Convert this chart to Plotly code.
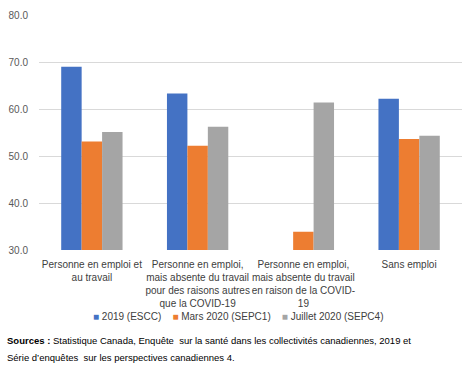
import plotly.graph_objects as go

categories = [
    "Personne en emploi et<br>au travail",
    "Personne en emploi,<br>mais absente du travail<br>pour des raisons autres<br>que la COVID-19",
    "Personne en emploi,<br>mais absente du travail<br>en raison de la COVID-<br>19",
    "Sans emploi",
]
series_names = ["2019 (ESCC)", "Mars 2020 (SEPC1)", "Juillet 2020 (SEPC4)"]
vals_2019 = [69.0, 63.3, None, 62.2]
vals_mars = [53.1, 52.2, 33.9, 53.6]
vals_juillet = [55.1, 56.2, 61.4, 54.3]
colors = ["#4472C4", "#ED7D31", "#A5A5A5"]

font = "Liberation Sans"
L, R, T, B = 39, 12, 15, 115
W, H = 474, 365
pw, ph = W - L - R, H - T - B

fig = go.Figure()
for name, vals, c in zip(series_names, [vals_2019, vals_mars, vals_juillet], colors):
    fig.add_trace(go.Bar(x=categories, y=vals, name=name, marker_color=c,
                         marker_line_width=0, showlegend=False))

# compact legend built as text (matches the reference's tight spacing)
legend_text = "&nbsp;&nbsp;&nbsp;&nbsp;".join(
    f'<span style="color:{c}">■</span> {n}' for n, c in zip(series_names, colors))

fig.update_layout(
    width=W, height=H,
    margin=dict(l=L, r=R, t=T, b=B),
    paper_bgcolor="white", plot_bgcolor="white",
    barmode="group", bargap=0.42, bargroupgap=0,
    font=dict(family=font, size=10, color="#404040"),
    yaxis=dict(range=[30, 80], dtick=10, tickformat=".1f", showgrid=True,
               gridcolor="#D9D9D9", gridwidth=1, zeroline=False, showline=False,
               ticks="", tickfont=dict(size=10, color="#595959"),
               automargin=False, ticklabelstandoff=10),
    xaxis=dict(showline=False, ticks="", tickfont=dict(size=10, color="#404040"),
               tickangle=0, automargin=False, ticklabelstandoff=7),
    annotations=[
        dict(text=legend_text, xref="paper", yref="paper",
             x=(238 - L) / pw, y=-(316 - (T + ph)) / ph, xanchor="center", yanchor="middle",
             showarrow=False, font=dict(size=10, color="#404040")),
        dict(text="<b>Sources :</b> Statistique Canada, Enquête  sur la santé dans les collectivités canadiennes, 2019 et",
             xref="paper", yref="paper", x=-(L - 5) / pw, y=-(340 - (T + ph)) / ph,
             xanchor="left", yanchor="middle",
             showarrow=False, font=dict(size=9.5, color="#000000"), align="left"),
        dict(text="Série d’enquêtes  sur les perspectives canadiennes 4.",
             xref="paper", yref="paper", x=-(L - 5) / pw, y=-(357 - (T + ph)) / ph,
             xanchor="left", yanchor="middle",
             showarrow=False, font=dict(size=9.5, color="#000000"), align="left"),
    ],
)
fig.write_html("out.html", config={"displayModeBar": False},
               post_script="document.body.style.margin='0';document.body.style.overflow='hidden';")
